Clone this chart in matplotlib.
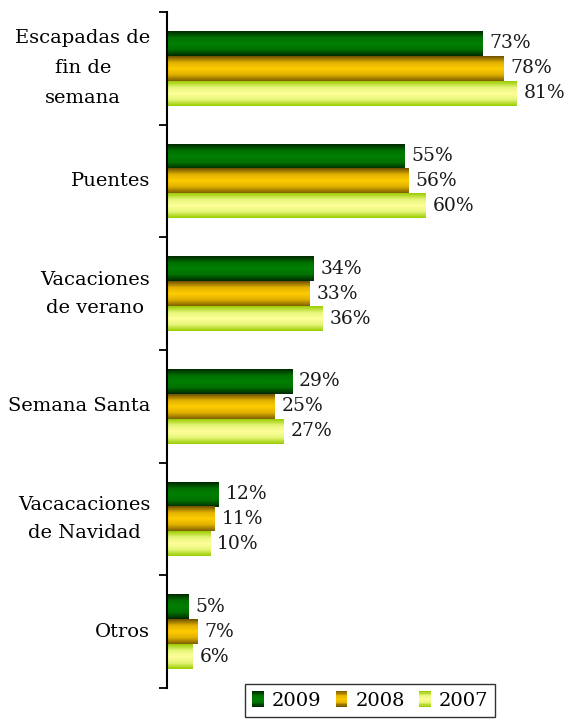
import numpy as np
import matplotlib
matplotlib.use('Agg')
import matplotlib.pyplot as plt
from matplotlib.colors import LinearSegmentedColormap
from matplotlib.legend_handler import HandlerBase
from matplotlib.patches import Rectangle

plt.rcParams['font.family'] = 'DejaVu Serif'

categories = ['Escapadas de\nfin de\nsemana', 'Puentes', 'Vacaciones\nde verano',
              'Semana Santa', 'Vacacaciones\nde Navidad', 'Otros']
years = ['2009', '2008', '2007']
values_2009 = [73, 55, 34, 29, 12, 5]
values_2008 = [78, 56, 33, 25, 11, 7]
values_2007 = [81, 60, 36, 27, 10, 6]

# gradient colours per series: edge, middle
grad_colors = {
    '2009': ['#002800', '#007000', '#008000', '#007000', '#002800'],
    '2008': ['#6e5000', '#e0b000', '#ffcc00', '#e0b000', '#806000'],
    '2007': ['#99cc00', '#e6f57a', '#ffff99', '#e6f57a', '#99cc00'],
}
cmaps = {k: LinearSegmentedColormap.from_list(k, v) for k, v in grad_colors.items()}

FS = 14


class GradientHandler(HandlerBase):
    # legend key drawn as horizontal stripes of the bar gradient
    def __init__(self, cmap):
        super().__init__()
        self.cmap = cmap

    def create_artists(self, legend, orig_handle, xdescent, ydescent,
                       width, height, fontsize, trans):
        n = 12
        arts = []
        for i in range(n):
            c = self.cmap(i / (n - 1))
            r = Rectangle((-xdescent, -ydescent + height * i / n), width, height / n,
                          facecolor=c, edgecolor='none', transform=trans)
            arts.append(r)
        return arts


fig = plt.figure(figsize=(5.74, 7.21), dpi=100)
ax = fig.add_axes([0.291, 0.0458, 0.709, 0.9376])

y = np.arange(len(categories))
h = 0.221
series = [('2009', values_2009, -h), ('2008', values_2008, 0.0), ('2007', values_2007, h)]
grad = np.linspace(0, 1, 64).reshape(-1, 1)

handles = []
for name, vals, off in series:
    bars = ax.barh(y + off, vals, height=h, facecolor='none', edgecolor='none', label=name)
    for b in bars:
        x0, y0 = b.get_x(), b.get_y()
        ax.imshow(grad, extent=[x0, x0 + b.get_width(), y0 + b.get_height(), y0],
                  aspect='auto', cmap=cmaps[name], zorder=2, interpolation='bilinear')
    ax.bar_label(bars, labels=[f'{v}%' for v in vals], padding=5, fontsize=FS - 0.5,
                 color='#1a1a1a')
    handles.append(Rectangle((0, 0), 1, 1))

ax.set_xlim(0, 94.3)
ax.set_ylim(5.5, -0.5)

# boundary ticks between categories, labels at centers
ax.set_yticks(np.arange(-0.5, 6.0, 1.0))
ax.set_yticklabels([])
ax.set_yticks(y, minor=True)
ax.set_yticklabels(categories, minor=True, fontsize=FS, multialignment='center')
for lab in ax.get_yticklabels(minor=True):
    lab.set_va('center')
    lab.set_linespacing(1.85 if lab.get_text().count('\n') > 1 else 1.7)
ax.tick_params(axis='y', which='major', length=6, width=1.3, direction='out')
ax.tick_params(axis='y', which='minor', length=0, pad=12)
ax.set_xticks([])

for s in ['top', 'right', 'bottom']:
    ax.spines[s].set_visible(False)
ax.spines['left'].set_linewidth(1.5)

leg = fig.legend(handles, years, loc='upper center', bbox_to_anchor=(0.645, 0.051),
                 ncol=3, fontsize=FS, frameon=True, fancybox=False,
                 edgecolor='black', handlelength=0.6, handleheight=0.9,
                 handletextpad=0.4, columnspacing=0.75, borderpad=0.35, borderaxespad=0,
                 handler_map={h_: GradientHandler(cmaps[n_]) for h_, n_ in zip(handles, years)})
leg.get_frame().set_linewidth(1.0)

fig.savefig('out.png', dpi=100)
